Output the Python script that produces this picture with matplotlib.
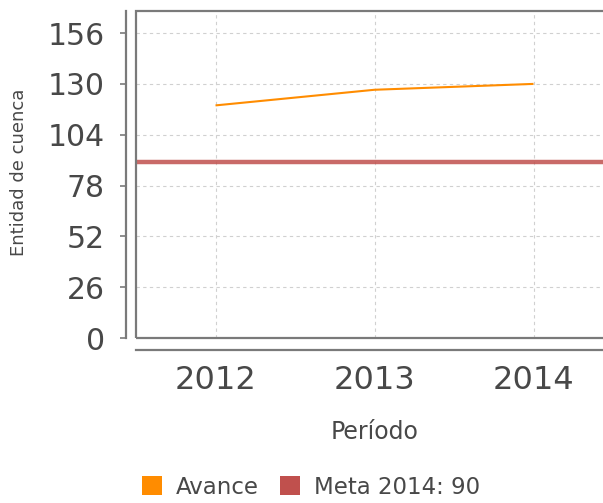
import matplotlib
matplotlib.use("Agg")
import matplotlib.pyplot as plt
from matplotlib.patches import Patch, Rectangle

# Data
periods = ["2012", "2013", "2014"]
avance = [119, 127, 130]
meta_value = 90
meta_label = "Meta 2014: 90"
avance_label = "Avance"
y_ticks = [0, 26, 52, 78, 104, 130, 156]

W, H = 603, 503
fig = plt.figure(figsize=(W / 100, H / 100), dpi=100)
fig.patch.set_facecolor("white")

# axes in pixel terms
left_px, top_px, bottom_px, width_px = 136, 11, 338, 477
ax = fig.add_axes([left_px / W, 1 - bottom_px / H, width_px / W, (bottom_px - top_px) / H])

x = list(range(len(periods)))
ax.set_xlim(-0.5, len(periods) - 0.5)
ax.set_ylim(0, 167.3)

text_color = "#484848"
frame_color = "#7a7a7a"

# grid
ax.set_yticks(y_ticks)
ax.set_xticks(x)
ax.set_xticklabels(periods)
ax.grid(True, color="#d0d0d0", linestyle=(0, (3, 3)), linewidth=0.8)
ax.set_axisbelow(True)

# lines
ax.axhline(meta_value, color="#C0504D", linewidth=3.2, alpha=0.85, zorder=3)
ax.plot(x, avance, color="#FF8C00", linewidth=1.5, zorder=4, solid_capstyle="butt")

# frame
frame = Rectangle((0, 0), 1, 1, transform=ax.transAxes, fill=False,
                  edgecolor=frame_color, linewidth=1.6, zorder=5, clip_on=False)
ax.add_patch(frame)

# separated axis lines
for s in ["top", "right"]:
    ax.spines[s].set_visible(False)
ax.spines["left"].set_position(("outward", 7.5))
ax.spines["bottom"].set_position(("outward", 8.6))
ax.spines["left"].set_color(frame_color)
ax.spines["bottom"].set_color(frame_color)
ax.spines["left"].set_linewidth(1.6)
ax.spines["bottom"].set_linewidth(1.6)

ax.tick_params(axis="y", length=4.5, width=1.2, color=frame_color, pad=10.5,
               labelsize=21.5, labelcolor=text_color)
ax.tick_params(axis="x", length=0, pad=10.5, labelsize=23, labelcolor=text_color)

# axis titles
fig.text(374.5 / W, 1 - 432 / H, "Período", ha="center", va="center",
         fontsize=17, color=text_color)
fig.text(19 / W, 1 - 172 / H, "Entidad de cuenca", ha="center", va="center",
         rotation=90, fontsize=13, color=text_color)

# legend
handles = [Patch(facecolor="#FF8C00", edgecolor="none", label=avance_label),
           Patch(facecolor="#C0504D", edgecolor="none", label=meta_label)]
leg = fig.legend(handles=handles, loc="center", bbox_to_anchor=(311 / W, 1 - 487 / H),
                 ncol=2, frameon=False, fontsize=16.5, handlelength=0.9, handleheight=0.9,
                 handletextpad=0.6, columnspacing=0.9, labelcolor=text_color)

fig.savefig("out.png", dpi=100)
